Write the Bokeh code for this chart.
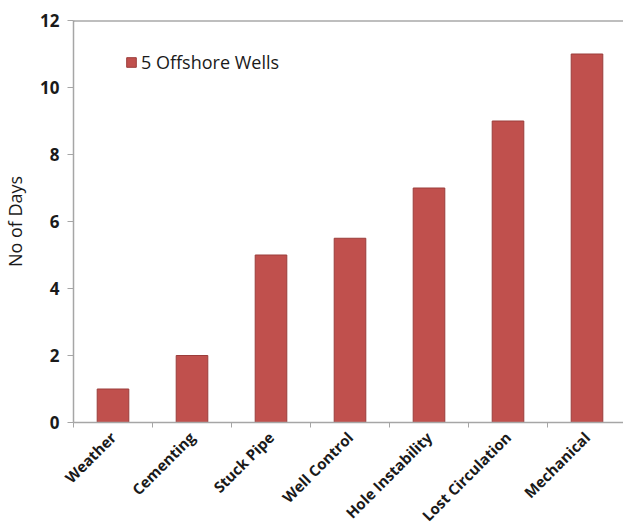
import math
from bokeh.plotting import figure
from bokeh.models import Range1d, FixedTicker, Span, Legend, LegendItem, ColumnDataSource
from bokeh.embed import file_html
from bokeh.resources import INLINE

categories = ["Weather", "Cementing", "Stuck Pipe", "Well Control",
              "Hole Instability", "Lost Circulation", "Mechanical"]
days = [1, 2, 5, 5.5, 7, 9, 11]
series_name = "5 Offshore Wells"
y_ticks = [0, 2, 4, 6, 8, 10, 12]

FONT = "Open Sans"
n = len(categories)
xpos = [i + 0.5 for i in range(n)]

p = figure(frame_width=550, frame_height=402, output_backend="svg", toolbar_location=None,
           x_range=Range1d(0, 550 / 79.0), y_range=Range1d(0, 12),
           min_border_left=73, min_border_right=0, min_border_top=20,
           min_border_bottom=0)
p.background_fill_color = "white"
p.border_fill_color = "white"
p.outline_line_color = None
p.grid.visible = False

src = ColumnDataSource(dict(x=xpos, top=days))
r = p.vbar(x="x", top="top", width=0.4, bottom=0, source=src,
           fill_color="#C0504D", line_color="#9B3D3B", line_width=1)

# x axis
xa = p.xaxis[0]
xa.ticker = FixedTicker(ticks=xpos, minor_ticks=list(range(n + 1)))
xa.major_label_overrides = {x: c for x, c in zip(xpos, categories)}
xa.major_tick_out = 0
xa.major_tick_in = 0
xa.minor_tick_out = 5
xa.minor_tick_in = 0
xa.minor_tick_line_color = "#A6A6A6"
xa.axis_line_color = "#A6A6A6"
xa.axis_line_width = 1.5
xa.major_label_orientation = math.pi / 4
xa.major_label_text_font = FONT
xa.major_label_text_font_style = "bold"
xa.major_label_text_font_size = "15px"
xa.major_label_text_color = "#1a1a1a"
xa.major_label_standoff = 7

# y axis
ya = p.yaxis[0]
ya.ticker = FixedTicker(ticks=y_ticks)
ya.minor_tick_line_color = None
ya.major_tick_out = 6
ya.major_tick_in = 0
ya.major_tick_line_color = "#A6A6A6"
ya.axis_line_color = "#A6A6A6"
ya.axis_line_width = 1.5
ya.major_label_text_font = FONT
ya.major_label_text_font_style = "bold"
ya.major_label_text_font_size = "17px"
ya.major_label_text_color = "#1a1a1a"
ya.major_label_standoff = 8
ya.axis_label = "No of Days"
ya.axis_label_text_font = FONT
ya.axis_label_text_font_style = "normal"
ya.axis_label_text_font_size = "18px"
ya.axis_label_text_color = "#1a1a1a"
ya.axis_label_standoff = 10

p.add_layout(Span(location=12, dimension="width", line_color="#7F7F7F", line_width=2))

legend = Legend(items=[LegendItem(label=series_name, renderers=[r])],
                location=(52, 348), background_fill_alpha=0, border_line_color=None,
                padding=4, margin=0, glyph_width=12, glyph_height=12,
                label_standoff=4, label_text_font=FONT, label_text_font_size="18px",
                label_text_color="#1a1a1a")
p.add_layout(legend)

open("out.html", "w").write(file_html(p, INLINE))
